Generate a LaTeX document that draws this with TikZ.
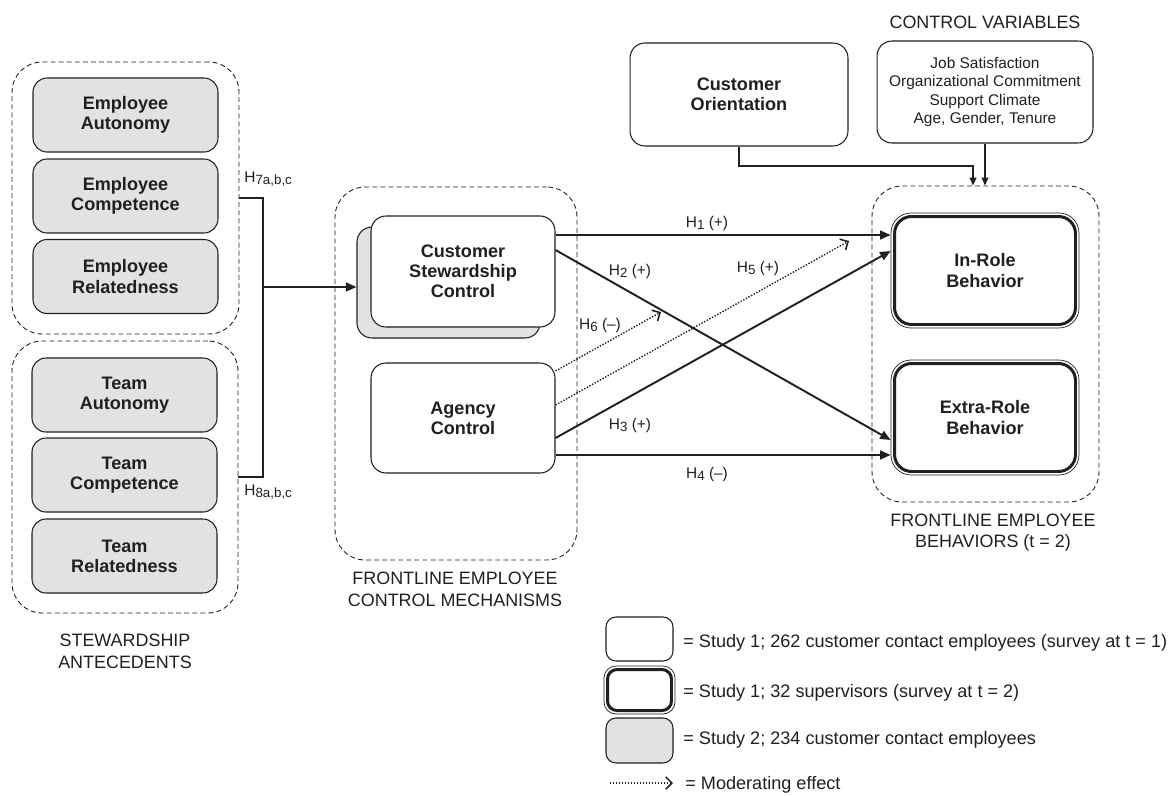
\documentclass[tikz,border=0pt]{standalone}
\usepackage{fontspec}
\setmainfont{Liberation Sans}
\usetikzlibrary{arrows.meta,calc}
\definecolor{boxgrey}{HTML}{E1E2E4}
\definecolor{ink}{HTML}{231F20}
\newcommand\myBold{\fontsize{10.3}{11.5}\selectfont\bfseries}
\newcommand\myReg{\fontsize{8.8}{10.4}\selectfont}
\newcommand\myGrp{\fontsize{10.2}{12.4}\selectfont}
\newcommand\myLeg{\fontsize{10.3}{12}\selectfont}
\newcommand\hsub[1]{\raisebox{-0.35ex}{\fontsize{7.6}{8}\selectfont #1}}
\begin{document}
\begin{tikzpicture}[x=0.02cm,y=-0.02cm,
  every node/.style={text=ink},
  gbox/.style={draw=ink, line width=0.6pt, fill=boxgrey, rounded corners=0.28cm, minimum width=3.7cm, minimum height=1.48cm, inner sep=0pt, align=center, font=\myBold},
  wbox/.style={draw=ink, line width=0.6pt, fill=white, rounded corners=0.3cm, inner sep=0pt, align=center},
  grp/.style={draw=ink, dash pattern=on 2.8pt off 1.8pt, line width=0.5pt, rounded corners=0.6cm, inner sep=0pt},
  outerb/.style={draw=ink, line width=0.4pt, rounded corners=0.4cm, fill=white, inner sep=0pt},
  innerb/.style={draw=ink, line width=1.7pt, rounded corners=0.34cm, inner sep=0pt, align=center, font=\myBold},
  conn/.style={draw=ink, line width=1.1pt, -{Triangle[length=6pt,width=5pt]}},
  thinconn/.style={draw=ink, line width=0.8pt, -{Triangle[length=4.5pt,width=3.8pt]}},
  modr/.style={draw=ink, line width=0.8pt, dash pattern=on 0.8pt off 0.9pt, -{Straight Barb[length=3.5pt,width=7pt,line width=0.9pt]}},
  hl/.style={font=\myReg, inner sep=0pt},
  gl/.style={font=\myGrp, align=center, inner sep=0pt},
  legt/.style={font=\myLeg, anchor=west, inner sep=0pt}
]
\useasboundingbox[fill=white] (0,0) rectangle (1170,795);

% left groups
\node[grp, minimum width=4.54cm, minimum height=5.44cm] (topgrp) at (125.5,198) {};
\node[grp, minimum width=4.52cm, minimum height=5.44cm] (botgrp) at (125,477) {};
\node[gbox] (ea) at (125.5,115) {Employee\\Autonomy};
\node[gbox] (ec) at (125.5,196) {Employee\\Competence};
\node[gbox] (er) at (125.5,276.5) {Employee\\Relatedness};
\node[gbox] (ta) at (124.5,395) {Team\\Autonomy};
\node[gbox] (tc) at (124.5,475) {Team\\Competence};
\node[gbox] (tr) at (124.5,556) {Team\\Relatedness};
\node[gl] (sa) at (125,651) {STEWARDSHIP\\ANTECEDENTS};

% middle group
\node[grp, minimum width=4.84cm, minimum height=7.46cm] (midgrp) at (456,373.5) {};
\node[wbox, fill=boxgrey, minimum width=3.66cm, minimum height=2.22cm] (cscsh) at (448.5,282.5) {};
\node[wbox, font=\myBold, minimum width=3.68cm, minimum height=2.22cm] (csc) at (463,271.5) {Customer\\Stewardship\\Control};
\node[wbox, font=\myBold, minimum width=3.68cm, minimum height=2.2cm] (agency) at (463,418) {Agency\\Control};
\node[gl] (ml) at (455,589) {FRONTLINE EMPLOYEE\\CONTROL MECHANISMS};

% right group
\node[grp, minimum width=4.54cm, minimum height=6.32cm] (rgrp) at (985.5,344) {};
\node[outerb, minimum width=3.76cm, minimum height=2.3cm] (inrole) at (985,270.5) {};
\node[innerb, minimum width=3.62cm, minimum height=2.16cm] (inroleIn) at (985,270.5) {In-Role\\Behavior};
\node[outerb, minimum width=3.76cm, minimum height=2.3cm] (extra) at (985,417.5) {};
\node[innerb, minimum width=3.62cm, minimum height=2.16cm] (extraIn) at (985,417.5) {Extra-Role\\Behavior};
\node[gl] (rl) at (993,532.5) {FRONTLINE EMPLOYEE\\BEHAVIORS (t = 2)};

% top boxes
\node[wbox, font=\myBold, minimum width=4.36cm, minimum height=2.06cm] (co) at (739,94.5) {Customer\\Orientation};
\node[wbox, font=\myReg, minimum width=4.32cm, minimum height=2.04cm] (cv) at (985,92) {\raisebox{0pt}[\height][\depth]{}Job Satisfaction\\Organizational Commitment\\Support Climate\\Age, Gender, Tenure};
\node[gl] (cvl) at (985,22) {CONTROL VARIABLES};

% bracket
\coordinate (brk) at (263,287);
\draw[draw=ink, line width=1.1pt] (topgrp.east) -| (brk) |- (botgrp.east);
\draw[conn] (brk) -- (brk -| cscsh.west);
\node[hl, anchor=west] (h7) at (244,179) {H\hsub{7a,b,c}};
\node[hl, anchor=west] (h8) at (244,492) {H\hsub{8a,b,c}};

% control connectors
\coordinate (coj) at (973,166);
\draw[thinconn] (co.south) |- (coj) -- (coj |- rgrp.north);
\draw[thinconn] (cv.south) -- (cv.south |- rgrp.north);

% hypotheses
\draw[conn] ([yshift=0.73cm]csc.east) -- ([yshift=0.73cm]csc.east -| inrole.west);
\draw[conn] ([yshift=0.43cm]csc.east) -- ([yshift=-0.45cm]extra.west);
\draw[conn] ([yshift=-0.40cm]agency.east) -- ([yshift=0.39cm]inrole.west);
\draw[conn] ([yshift=-0.74cm]agency.east) -- ([yshift=-0.74cm]agency.east -| extra.west);
\coordinate (h6end) at (661,312);
\coordinate (h5end) at (849,241);
\draw[modr] ([yshift=0.94cm]agency.east) -- (h6end);
\draw[modr] ([yshift=0.26cm]agency.east) -- (h5end);
\node[hl] (l1) at (707,223) {H\hsub{1} (+)};
\node[hl] (l2) at (630,271) {H\hsub{2} (+)};
\node[hl] (l3) at (630,425) {H\hsub{3} (+)};
\node[hl] (l4) at (707,474) {H\hsub{4} (–)};
\node[hl] (l5) at (758,268) {H\hsub{5} (+)};
\node[hl] (l6) at (600,325) {H\hsub{6} (–)};

% legend
\node[wbox, rounded corners=0.2cm, minimum width=1.34cm, minimum height=0.88cm] (lw) at (639.5,639) {};
\node[outerb, rounded corners=0.24cm, minimum width=1.42cm, minimum height=0.96cm] (ld) at (639.5,690) {};
\node[innerb, rounded corners=0.19cm, minimum width=1.28cm, minimum height=0.82cm] (ldIn) at (639.5,690) {};
\node[wbox, fill=boxgrey, rounded corners=0.2cm, minimum width=1.34cm, minimum height=0.9cm] (lg) at (639.5,740.5) {};
\coordinate (ma) at (610,783);
\coordinate (mb) at (673,783);
\draw[modr] (ma) -- (mb);
\node[legt] (t1) at (683,643) {= Study 1; 262 customer contact employees (survey at t = 1)};
\node[legt] (t2) at (683,693) {= Study 1; 32 supervisors (survey at t = 2)};
\node[legt] (t3) at (683,740) {= Study 2; 234 customer contact employees};
\node[legt] (t4) at (685,785) {= Moderating effect};
\end{tikzpicture}
\end{document}
